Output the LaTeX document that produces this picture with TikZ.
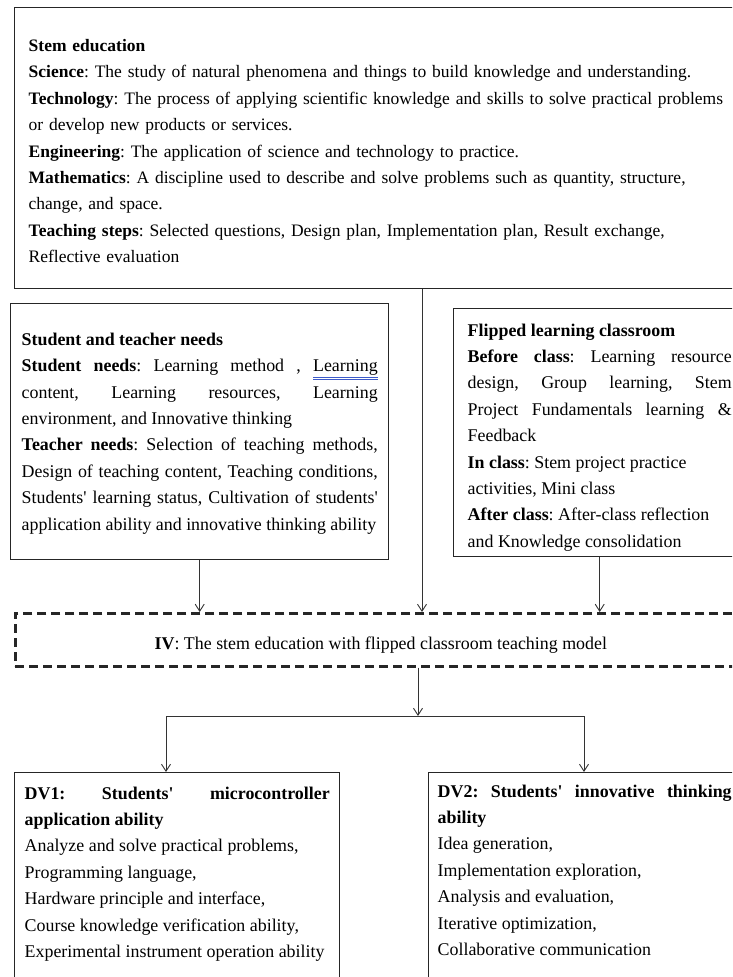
\documentclass[tikz,border=0pt]{standalone}
\usepackage{fontspec}
\setmainfont{Liberation Serif}
\usetikzlibrary{arrows.meta}
\definecolor{linkblue}{RGB}{60,90,200}
\newcommand{\spellmark}[1]{{\color{linkblue}\underline{\underline{\color{black}#1}}}}
\newcommand{\apos}{\textquotesingle}
\newcommand{\lift}[1]{\rule{0pt}{#1}}
\frenchspacing

\begin{document}
\begin{tikzpicture}[
        x=1pt, y=-1pt,
        every node/.style={font=\fontsize{17.9}{26.4}\selectfont},
        box/.style={rectangle, draw=black!85, line width=1.4pt, anchor=north west, align=left, inner ysep=0pt},
        jbox/.style={box, align=justify},
        dashbox/.style={box, line width=2.6pt, dash pattern=on 9pt off 5pt, align=center},
        arrow/.style={-{Straight Barb[length=7pt,width=9pt]}, line width=0.9pt, black!80}
    ]
        \clip (0,0) rectangle (732,977);

        % inputs
        \node[box, text width=703pt, inner xsep=14pt, minimum height=281pt, font=\fontsize{17.5}{26.4}\selectfont] (stem) at (14,7) {%
            \lift{18pt}\textbf{Stem education}\\
            \textbf{Science}: The study of natural phenomena and things to build knowledge and understanding.\\
            \textbf{Technology}: The process of applying scientific knowledge and skills to solve practical problems\\
            or develop new products or services.\\
            \textbf{Engineering}: The application of science and technology to practice.\\
            \textbf{Mathematics}: A discipline used to describe and solve problems such as quantity, structure,\\
            change, and space.\\
            \textbf{Teaching steps}: Selected questions, Design plan, Implementation plan, Result exchange,\\
            Reflective evaluation};
        \node[jbox, text width=356pt, inner xsep=11pt, minimum height=256pt] (needs) at (10,303) {%
            \lift{16pt}\textbf{Student and teacher needs}\\
            \textbf{Student needs}: Learning method , \spellmark{Learning}\linebreak
            content, Learning resources, Learning\linebreak
            environment, and Innovative thinking\\
            \textbf{Teacher needs}: Selection of teaching methods,\linebreak
            Design of teaching content, Teaching conditions,\linebreak
            Students\apos{} learning status, Cultivation of students\apos\linebreak
            application ability and innovative thinking ability};
        \node[jbox, text width=264pt, inner xsep=14pt, minimum height=248pt] (flipped) at (453,308) {%
            \lift{22pt}\textbf{Flipped learning classroom}\\
            \textbf{Before class}: Learning resource\linebreak
            design, Group learning, Stem\linebreak
            Project Fundamentals learning \&\linebreak
            Feedback\\
            \textbf{In class}: Stem project practice\\
            activities, Mini class\\
            \textbf{After class}: After-class reflection\\
            and Knowledge consolidation};

        % model
        \node[dashbox, minimum width=731pt, minimum height=53pt, inner xsep=0pt] (model) at (14,612) {%
            \lift{23pt}\textbf{IV}: The stem education with flipped classroom teaching model};

        % outcomes
        \node[jbox, text width=305pt, inner xsep=10pt, inner ysep=14pt] (dv1) at (14,772) {%
            \textbf{DV1: Students\apos{} microcontroller}\linebreak
            \textbf{application ability}\\
            Analyze and solve practical problems,\\
            Programming language,\\
            Hardware principle and interface,\\
            Course knowledge verification ability,\\
            Experimental instrument operation ability\\[40pt]};
        \node[jbox, text width=294pt, inner xsep=9pt, inner ysep=12pt] (dv2) at (428,772) {%
            \textbf{DV2: Students\apos{} innovative thinking}\linebreak
            \textbf{ability}\\
            Idea generation,\\
            Implementation exploration,\\
            Analysis and evaluation,\\
            Iterative optimization,\\
            Collaborative communication\\[40pt]};

        \coordinate (trunk) at (422,0);
        \coordinate (split) at (418,716);
        \coordinate (lfork) at (166,716);
        \coordinate (rfork) at (584,716);

        \draw[arrow] (stem.south -| trunk) -- (model.north -| trunk);
        \draw[arrow] (needs.south) -- (needs.south |- model.north);
        \draw[arrow] (flipped.south) -- (flipped.south |- model.north);
        \draw[arrow] (model.south -| split) -- (split);
        \draw[line width=0.9pt, black!80] (lfork) -- (rfork);
        \draw[arrow] (lfork) -- (dv1.north -| lfork);
        \draw[arrow] (rfork) -- (dv2.north -| rfork);
    \end{tikzpicture}
\end{document}
